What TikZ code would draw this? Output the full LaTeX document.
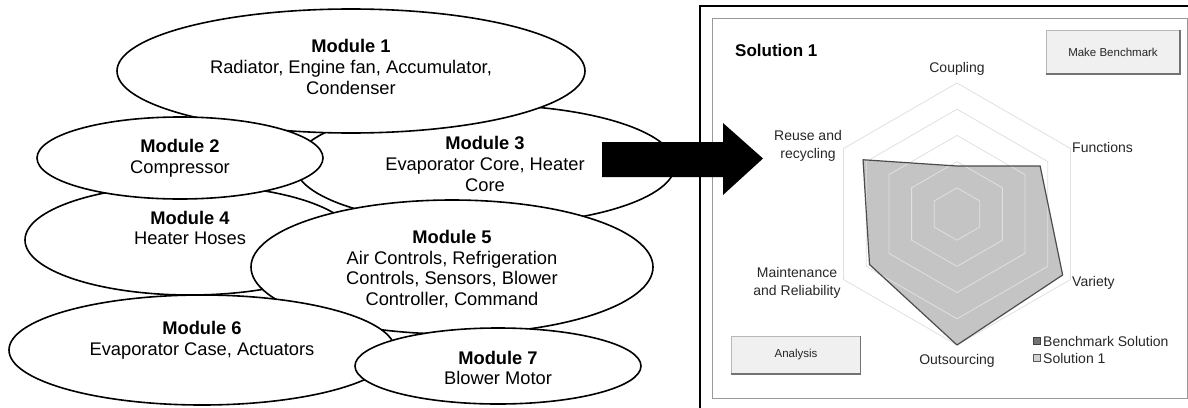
\documentclass[tikz,border=0pt]{standalone}
\usepackage{fontspec}
\setmainfont{Liberation Sans}
\usetikzlibrary{shapes.geometric}
\tikzset{
    modnode/.style={ellipse,draw,line width=1.6pt,fill=white,inner sep=0pt},
    modtext/.style={align=center,inner sep=0pt,font=\fontsize{18.3}{20.8}\selectfont},
    axlabel/.style={inner sep=0pt,text=black!85,align=center,font=\fontsize{14}{17.5}\selectfont},
    gridline/.style={draw=black!12,line width=0.8pt},
    sfill/.style={fill=black!23},
    sline/.style={draw=black!70,line width=1.2pt,line join=round},
    btn/.style={draw=black!28,fill=black!6,inner sep=0pt,text=black!85,font=\fontsize{11.5}{13}\selectfont},
    btnshadow/.style={draw=black!55,line width=1.5pt},
    legbox/.style={minimum size=7pt,inner sep=0pt,line width=0.8pt},
}

\begin{document}
\begin{tikzpicture}[x=1pt,y=-1pt]
\useasboundingbox (0,0) rectangle (1188,407);
\clip (0,0) rectangle (1188,407);

% modules
\node[modnode,minimum width=380,minimum height=120] (m3) at (485,165) {};
\node[modtext] (t3) at (485,164) {\textbf{Module 3}\\Evaporator Core, Heater\\Core};
\node[modnode,minimum width=468,minimum height=124] (m1) at (351,71) {};
\node[modtext] (t1) at (351,67) {\textbf{Module 1}\\Radiator, Engine fan, Accumulator,\\Condenser};
\node[modnode,minimum width=330,minimum height=110] (m4) at (190,240) {};
\node[modtext] (t4) at (190,228) {\textbf{Module 4}\\Heater Hoses};
\node[modnode,minimum width=286,minimum height=82] (m2) at (180,158) {};
\node[modtext] (t2) at (180,158) {\textbf{Module 2}\\Compressor};
\node[modnode,minimum width=402,minimum height=134] (m5) at (452,267) {};
\node[modtext] (t5) at (452,269) {\textbf{Module 5}\\Air Controls, Refrigeration\\Controls, Sensors, Blower\\Controller, Command};
\node[modnode,minimum width=386,minimum height=110] (m6) at (202,350) {};
\node[modtext] (t6) at (202,340) {\textbf{Module 6}\\Evaporator Case, Actuators};
\node[modnode,minimum width=286,minimum height=76] (m7) at (498,366) {};
\node[modtext] (t7) at (498,368) {\textbf{Module 7}\\Blower Motor};

% panel
\draw[black!40,line width=0.8pt] (712,18) rectangle (1187,398);
\draw[line width=2.6pt] (700,6) rectangle (1200,420);
\node[inner sep=0pt,anchor=west,font=\bfseries\fontsize{17}{20}\selectfont] (sol) at (735,50) {Solution 1};

\node[btn,minimum width=134,minimum height=44] (mkb) at (1113,52) {Make Benchmark};
\draw[btnshadow] (mkb.north east) -- (mkb.south east) -- (mkb.south west);
\node[btn,minimum width=129,minimum height=38] (ana) at (796,355) {Analysis};
\draw[btnshadow] (ana.north east) -- (ana.south east) -- (ana.south west);

\begin{scope}[shift={(957,214)},yscale=-1]
\coordinate (p1) at (90:48);
\coordinate (p2) at (30:96);
\coordinate (p3) at (-30:122);
\coordinate (p4) at (-90:131);
\coordinate (p5) at (-150:101);
\coordinate (p6) at (150:108.5);
\fill[sfill] (p1) -- (p2) -- (p3) -- (p4) -- (p5) -- (p6) -- cycle;
\foreach \k in {1,...,5} {
    \pgfmathsetmacro\rr{26.2*\k}
    \draw[gridline] (90:\rr) \foreach \a in {30,-30,-90,-150,150} {-- (\a:\rr)} -- cycle;
}
\draw[sline] (p1) -- (p2) -- (p3) -- (p4) -- (p5) -- (p6) -- cycle;
\end{scope}

\node[axlabel] (cpl) at (957,69) {Coupling};
\node[axlabel,anchor=west] (fun) at (1072,147) {Functions};
\node[axlabel,anchor=west] (var) at (1072,283) {Variety};
\node[axlabel] (out) at (957,361) {Outsourcing};
\node[axlabel] (mnt) at (797,283) {Maintenance\\and Reliability};
\node[axlabel] (reu) at (808,146) {Reuse and\\recycling};

\node[legbox,draw=black!75,fill=black!55] (lb1) at (1036.5,341) {};
\node[axlabel,anchor=west] (lt1) at (1043,341) {Benchmark Solution};
\node[legbox,draw=black!65,fill=black!18] (lb2) at (1036.5,358) {};
\node[axlabel,anchor=west] (lt2) at (1043,358) {Solution 1};

% arrow
\fill (602,142) -- (723,142) -- (723,123) -- (763,158.5) -- (723,195) -- (723,177) -- (602,177) -- cycle;
\end{tikzpicture}
\end{document}
